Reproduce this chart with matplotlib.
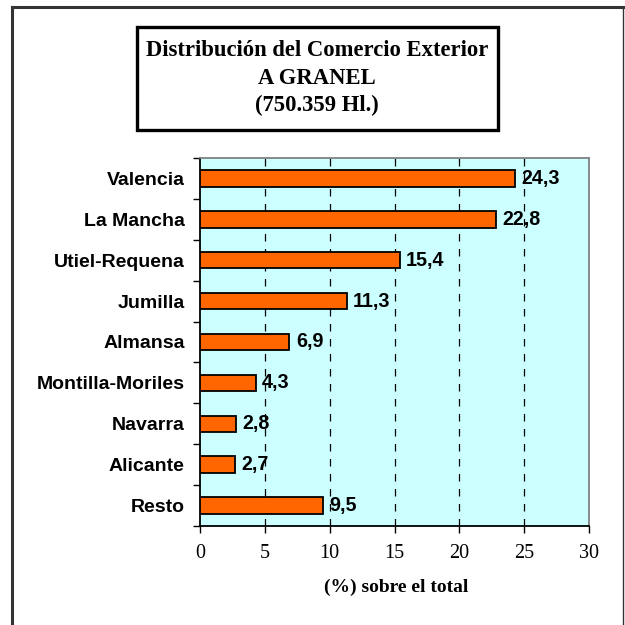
import matplotlib
matplotlib.use("Agg")
import matplotlib.pyplot as plt
from matplotlib.patches import Rectangle
from matplotlib.lines import Line2D

categories = ["Valencia", "La Mancha", "Utiel-Requena", "Jumilla", "Almansa",
              "Montilla-Moriles", "Navarra", "Alicante", "Resto"]
values = [24.3, 22.8, 15.4, 11.3, 6.9, 4.3, 2.8, 2.7, 9.5]
value_labels = ["24,3", "22,8", "15,4", "11,3", "6,9", "4,3", "2,8", "2,7", "9,5"]
xticks = [0, 5, 10, 15, 20, 25, 30]
title_lines = ["Distribución del Comercio Exterior", "A GRANEL", "(750.359 Hl.)"]
xlabel = "(%) sobre el total"

W = H = 625
fig = plt.figure(figsize=(6.25, 6.25), dpi=100)

def fx(px):
    return px / W

def fy(py):
    return 1 - py / H

# outer border
fig.add_artist(Line2D([fx(12), fx(12)], [fy(7), fy(640)], color="#333333", lw=2.2, transform=fig.transFigure))
fig.add_artist(Line2D([fx(12), fx(623)], [fy(7), fy(7)], color="#333333", lw=2.2, transform=fig.transFigure))
fig.add_artist(Line2D([fx(623), fx(623)], [fy(7), fy(640)], color="#333333", lw=1.0, transform=fig.transFigure))

# title box
fig.add_artist(Rectangle((fx(137), fy(130)), fx(498) - fx(137), fy(27) - fy(130),
                         transform=fig.transFigure, fill=False, ec="black", lw=2.4))
for i, line in enumerate(title_lines):
    fig.text(fx(317), fy(51 + 27 * i), line, ha="center", va="center",
             family="Liberation Serif", fontweight="bold", fontsize=16.3)

ax = fig.add_axes([fx(200), fy(526), fx(589) - fx(200), fy(158) - fy(526)])
ax.set_facecolor("#CCFFFF")

n = len(categories)
ypos = list(range(n))
ax.barh(ypos, values, height=0.4, color="#FF6600", edgecolor="black", lw=1.3, zorder=3)
ax.set_xlim(0, 30)
ax.set_ylim(n - 0.5, -0.5)

for y, v, lab in zip(ypos, values, value_labels):
    ax.text(v + 0.5, y, lab, ha="left", va="center", family="Liberation Sans",
            fontweight="bold", fontsize=14.2, zorder=4)

ax.set_xticks(xticks)
ax.set_xticklabels([str(t) for t in xticks], family="Liberation Serif", fontsize=14.5)
ax.tick_params(axis="x", direction="out", length=5, width=1, pad=8)

ax.set_yticks([i - 0.5 for i in range(n + 1)])
ax.set_yticklabels([])
ax.set_yticks(ypos, minor=True)
ax.set_yticklabels(categories, minor=True, family="Liberation Sans", fontweight="bold", fontsize=14)
ax.tick_params(axis="y", which="major", direction="out", length=5, width=1)
ax.tick_params(axis="y", which="minor", length=0, pad=11)

for g in xticks[1:-1]:
    ax.axvline(g, color="black", ls=(0, (6, 6)), lw=0.9, zorder=2)

ax.spines["left"].set_color("black")
ax.spines["bottom"].set_color("black")
ax.spines["top"].set_color("#808080")
ax.spines["right"].set_color("#808080")
for s in ax.spines.values():
    s.set_linewidth(1.3)

fig.text(fx(396), fy(587), xlabel, ha="center", va="center",
         family="Liberation Serif", fontweight="bold", fontsize=14)

fig.savefig("out.png", dpi=100)
